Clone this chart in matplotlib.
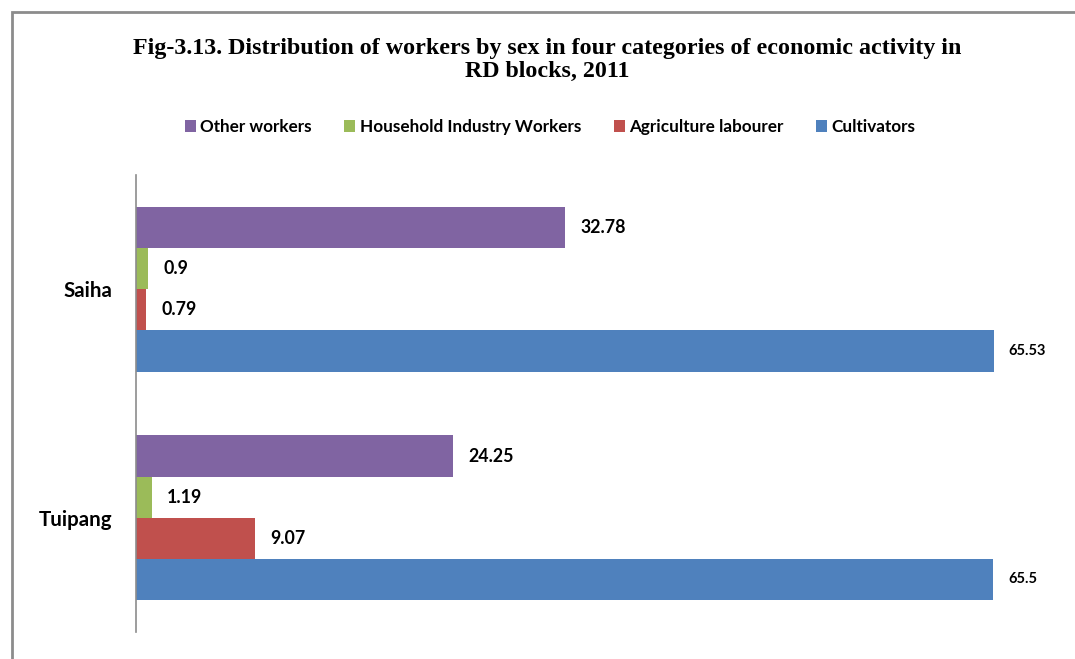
import numpy as np
import matplotlib
matplotlib.use("Agg")
import matplotlib.pyplot as plt
from matplotlib.patches import Rectangle

blocks = ["Tuipang", "Saiha"]
series_names = ["Cultivators", "Agriculture labourer", "Household Industry Workers", "Other workers"]
cultivators = [65.5, 65.53]
agri_labour = [9.07, 0.79]
household = [1.19, 0.9]
other_workers = [24.25, 32.78]

colores = ["#4F81BD", "#C0504D", "#9BBB59", "#8064A2"]
valores = [cultivators, agri_labour, household, other_workers]

fig = plt.figure(figsize=(10.75, 6.59), dpi=100)
ax = fig.add_axes([136 / 1075, 1 - 632 / 659, (1052 - 136) / 1075, (632 - 175) / 659])

# marco gris del recuadro del grafico
fig.patches.append(Rectangle((12 / 1075, -0.02), 1.0, 1 - 12 / 659 + 0.02,
                             transform=fig.transFigure, fill=False,
                             edgecolor="#8c8c8c", linewidth=2, zorder=0))

y = np.arange(len(blocks))
alto = 0.18
barras = []
for i, (nombre, vals, c) in enumerate(zip(series_names, valores, colores)):
    pos = y + (i - 1.5) * alto
    b = ax.barh(pos, vals, height=alto, color=c, label=nombre)
    barras.append(b)
    for p, v in zip(pos, vals):
        tam = 10.5 if nombre == "Cultivators" else 12.8
        ax.annotate(f"{v:g}", (v, p), xytext=(11, 0), textcoords="offset points",
                    va="center", ha="left", fontsize=tam, fontweight="bold",
                    family="Lato")

ax.set_xlim(0, 70)
ax.set_ylim(-0.5, 1.5)
ax.set_yticks(y)
ax.set_yticklabels(blocks, fontsize=14.8, fontweight="bold", family="Lato")
ax.tick_params(axis="y", length=0, pad=17)
ax.set_xticks([])
for lado in ["top", "right", "bottom"]:
    ax.spines[lado].set_visible(False)
ax.spines["left"].set_color("#8c8c8c")
ax.spines["left"].set_linewidth(1.2)

fig.text(547 / 1075, 1 - 60 / 659, "Fig-3.13. Distribution of workers by sex in four categories of economic activity in\nRD blocks, 2011",
         ha="center", va="center", fontsize=17.3, fontweight="bold",
         family="Liberation Serif", linespacing=1.15)

handles = barras[::-1]
leg = fig.legend(handles, [h.get_label() for h in handles], loc="center",
                 bbox_to_anchor=(550 / 1075, 1 - 127 / 659), ncol=4, frameon=False,
                 prop={"family": "Lato", "weight": "bold", "size": 12.3},
                 handlelength=0.65, handleheight=0.65, handletextpad=0.25, columnspacing=1.9)

fig.savefig("out.png", dpi=100)
